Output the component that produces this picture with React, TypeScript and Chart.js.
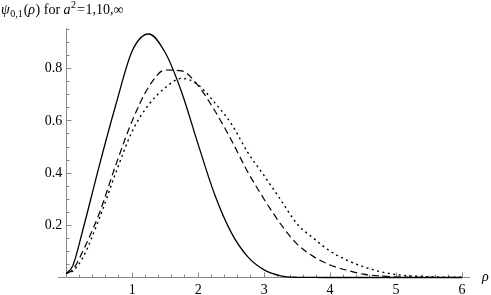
import React, { useEffect, useRef } from "react";
import { Chart, registerables } from "chart.js";

Chart.register(...registerables);

// ρ sample positions
const rho = [0, 0.1, 0.25, 0.5, 0.75, 1, 1.25, 1.5, 1.75, 2, 2.25, 2.5, 2.75, 3, 3.25, 3.5, 3.75, 4, 4.25, 4.5, 4.75, 5, 5.25, 5.5, 5.75, 6];
// a^2 = 1 (solid)
const psiA1 = [0.015, 0.045, 0.18, 0.427, 0.66, 0.868, 0.933, 0.862, 0.71, 0.51, 0.318, 0.173, 0.08, 0.029, 0.0065, 0.0008, 0.0001, 0, 0, 0, 0, 0, 0, 0, 0, 0];
// a^2 = 10 (dashed)
const psiA10 = [0.015, 0.03, 0.1, 0.245, 0.43, 0.6, 0.73, 0.795, 0.792, 0.735, 0.64, 0.528, 0.405, 0.3, 0.205, 0.128, 0.08, 0.048, 0.028, 0.013, 0.006, 0.002, 0.0007, 0.0002, 0, 0];
// a^2 = ∞ (dotted)
const psiInf = [0.015, 0.025, 0.075, 0.225, 0.4, 0.56, 0.662, 0.727, 0.763, 0.738, 0.67, 0.59, 0.48, 0.39, 0.298, 0.205, 0.15, 0.101, 0.067, 0.042, 0.023, 0.011, 0.0055, 0.003, 0.0015, 0.0008];

const xTickLabels = [1, 2, 3, 4, 5, 6];
const yTickLabels = [0.2, 0.4, 0.6, 0.8];

const SERIF = '"Liberation Serif", "Times New Roman", Times, serif';
const AXIS_COLOR = "#8a8a8a";

const toPoints = (vals: number[]) => rho.map((r, i) => ({ x: r, y: vals[i] }));

const crisp = (p: number) => Math.round(p - 0.5) + 0.5;

const axesPlugin = {
  id: "mmaAxes",
  beforeDatasetsDraw(chart: any) {
    const { ctx } = chart;
    const xs = chart.scales.x;
    const ys = chart.scales.y;
    const x0 = crisp(xs.getPixelForValue(0));
    const y0 = crisp(ys.getPixelForValue(0));
    ctx.save();
    ctx.strokeStyle = AXIS_COLOR;
    ctx.lineWidth = 1;
    ctx.beginPath();
    ctx.moveTo(xs.getPixelForValue(-0.125), y0);
    ctx.lineTo(xs.right, y0);
    ctx.moveTo(x0, ys.top);
    ctx.lineTo(x0, y0);
    ctx.stroke();
    ctx.beginPath();
    for (let i = 1; i <= 30; i++) {
      const px = crisp(xs.getPixelForValue(i * 0.2));
      const len = i % 5 === 0 ? 5 : 3;
      ctx.moveTo(px, y0);
      ctx.lineTo(px, y0 - len);
    }
    for (let i = 1; i <= 19; i++) {
      const py = crisp(ys.getPixelForValue(i * 0.05));
      const len = i % 4 === 0 ? 5 : 3;
      ctx.moveTo(x0, py);
      ctx.lineTo(x0 + len, py);
    }
    ctx.stroke();
    ctx.restore();
  },
  afterDraw(chart: any) {
    const { ctx } = chart;
    const xs = chart.scales.x;
    const ys = chart.scales.y;
    ctx.save();
    ctx.fillStyle = "#000";
    ctx.textBaseline = "alphabetic";
    ctx.textAlign = "left";
    ctx.font = `italic 14px ${SERIF}`;
    ctx.fillText("ρ", xs.right + 12, ys.getPixelForValue(0) + 3);
    const base = 14;
    let x = 1;
    const piece = (t: string, font: string, dy = 0, gap = 0) => {
      ctx.font = font;
      ctx.fillText(t, x, base + dy);
      x += ctx.measureText(t).width + gap;
    };
    piece("ψ", `italic 14px ${SERIF}`, 0, 0.5);
    piece("0,1", `10px ${SERIF}`, 3, 1);
    piece("(", `14px ${SERIF}`);
    piece("ρ", `italic 14px ${SERIF}`, 0, 0.5);
    piece(")", `14px ${SERIF}`);
    piece(" for ", `14px ${SERIF}`);
    piece("a", `italic 14px ${SERIF}`, 0, 0.5);
    piece("2", `10px ${SERIF}`, -6, 1);
    piece("=", `14px ${SERIF}`, 0, 0.5);
    piece("1,10,∞", `14px ${SERIF}`);
    ctx.restore();
  },
};

export default function App() {
  const ref = useRef<HTMLCanvasElement | null>(null);
  useEffect(() => {
    document.body.style.margin = "0";
    if (!ref.current) return;
    const common = {
      borderColor: "#000",
      pointRadius: 0,
      showLine: true,
      fill: false,
      cubicInterpolationMode: "monotone" as const,
      clip: false as any,
    };
    const chart = new Chart(ref.current, {
      type: "scatter",
      data: {
        datasets: [
          { ...common, label: "a²=1", data: toPoints(psiA1), borderWidth: 1.3 },
          { ...common, label: "a²=10", data: toPoints(psiA10), borderWidth: 1.2, borderDash: [7, 4] },
          { ...common, label: "a²=∞", data: toPoints(psiInf), borderWidth: 1.4, borderDash: [2, 3.5] },
        ],
      },
      options: {
        animation: false,
        responsive: false,
        layout: { padding: { top: 28, right: 21, left: 0, bottom: 0 } },
        plugins: {
          legend: { display: false },
          tooltip: { enabled: false },
          title: { display: false },
        },
        scales: {
          x: {
            type: "linear",
            min: 0,
            max: 6.12,
            grid: { display: false, drawTicks: false },
            border: { display: false },
            afterBuildTicks: (s: any) => {
              s.ticks = xTickLabels.map((v) => ({ value: v }));
            },
            afterFit: (s: any) => {
              s.height = 17.5;
            },
            ticks: {
              autoSkip: false,
              maxRotation: 0,
              padding: 4,
              color: "#000",
              font: { family: SERIF, size: 14 },
              callback: (v: any) => String(v),
            },
          },
          y: {
            type: "linear",
            min: 0,
            max: 0.956,
            grid: { display: false, drawTicks: false },
            border: { display: false },
            afterBuildTicks: (s: any) => {
              s.ticks = yTickLabels.map((v) => ({ value: v }));
            },
            afterFit: (s: any) => {
              s.width = 66.2;
            },
            ticks: {
              autoSkip: false,
              padding: 4,
              color: "#000",
              font: { family: SERIF, size: 14 },
              callback: (v: any) => Number(v).toFixed(1),
            },
          },
        },
      },
      plugins: [axesPlugin],
    });
    return () => {
      chart.destroy();
    };
  }, []);
  return (
    <div style={{ width: 491, height: 295 }}>
      <canvas ref={ref} width={491} height={295} style={{ display: "block" }} />
    </div>
  );
}
